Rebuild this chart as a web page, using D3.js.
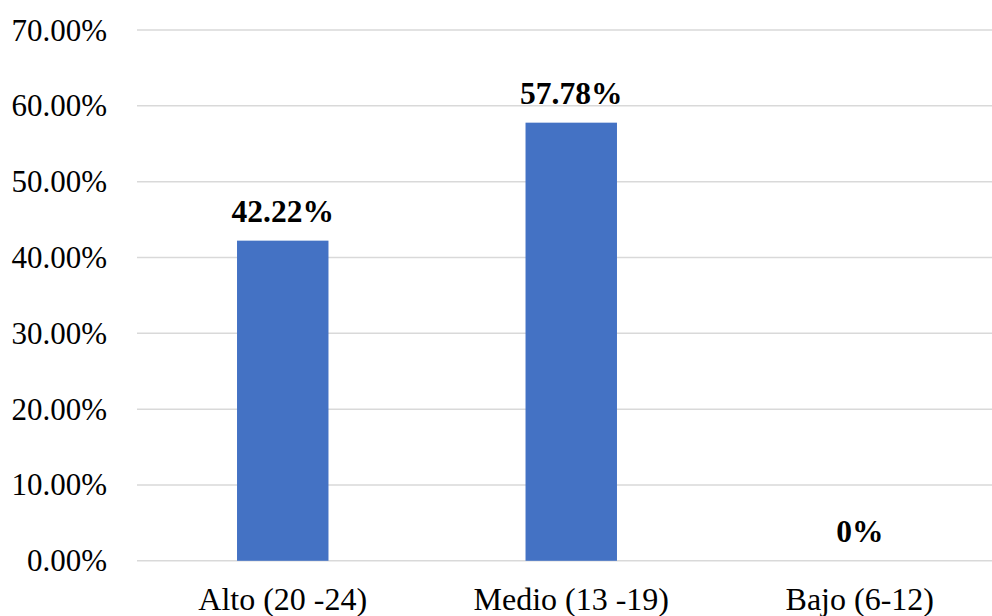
<!DOCTYPE html>
<html>
<head>
<meta charset="utf-8">
<script src="https://cdn.jsdelivr.net/npm/d3@7"></script>
<style>
  html, body { margin: 0; padding: 0; background: #fff; }
  svg { display: block; }
</style>
</head>
<body>
<svg id="chart" width="992" height="616"></svg>
<script>
const categories = ["Alto (20 -24)", "Medio (13 -19)", "Bajo (6-12)"];
const values = [42.22, 57.78, 0];
const valueLabels = ["42.22%", "57.78%", "0%"];
const yTicks = [0, 10, 20, 30, 40, 50, 60, 70];

(function () {
const svg = d3.select("#chart");
const plotLeft = 138.5, plotRight = 1004, plotTop = 30, plotBottom = 560.8;
const font = "'Liberation Serif', 'Times New Roman', serif";

const x = d3.scaleBand().domain(categories).range([plotLeft, plotRight])
  .paddingInner(0.683).paddingOuter(0.3415);
const y = d3.scaleLinear().domain([0, 70]).range([plotBottom, plotTop]);

// gridlines
svg.append("g").selectAll("line").data(yTicks).join("line")
  .attr("x1", 137).attr("x2", 992)
  .attr("y1", d => y(d)).attr("y2", d => y(d))
  .attr("stroke", "#d9d9d9").attr("stroke-width", 1.5);

// y tick labels
svg.append("g").selectAll("text").data(yTicks).join("text")
  .attr("x", 107).attr("y", d => y(d) + 10.5)
  .attr("text-anchor", "end")
  .attr("font-family", font).attr("font-size", 31).attr("fill", "#000")
  .text(d => d.toFixed(2) + "%");

// bars
svg.append("g").selectAll("rect").data(values).join("rect")
  .attr("x", (d, i) => x(categories[i]))
  .attr("width", x.bandwidth())
  .attr("y", d => y(d))
  .attr("height", d => y(0) - y(d))
  .attr("fill", "#4472c4");

// value labels
svg.append("g").selectAll("text").data(values).join("text")
  .attr("x", (d, i) => x(categories[i]) + x.bandwidth() / 2)
  .attr("y", d => y(d) - 19)
  .attr("text-anchor", "middle")
  .attr("font-family", font).attr("font-size", 31.5).attr("font-weight", "bold").attr("fill", "#000")
  .text((d, i) => valueLabels[i]);

// category labels
svg.append("g").selectAll("text").data(categories).join("text")
  .attr("x", d => x(d) + x.bandwidth() / 2)
  .attr("y", 610)
  .attr("text-anchor", "middle")
  .attr("font-family", font).attr("font-size", 32).attr("fill", "#000")
  .text(d => d);
})();
</script>
</body>
</html>
